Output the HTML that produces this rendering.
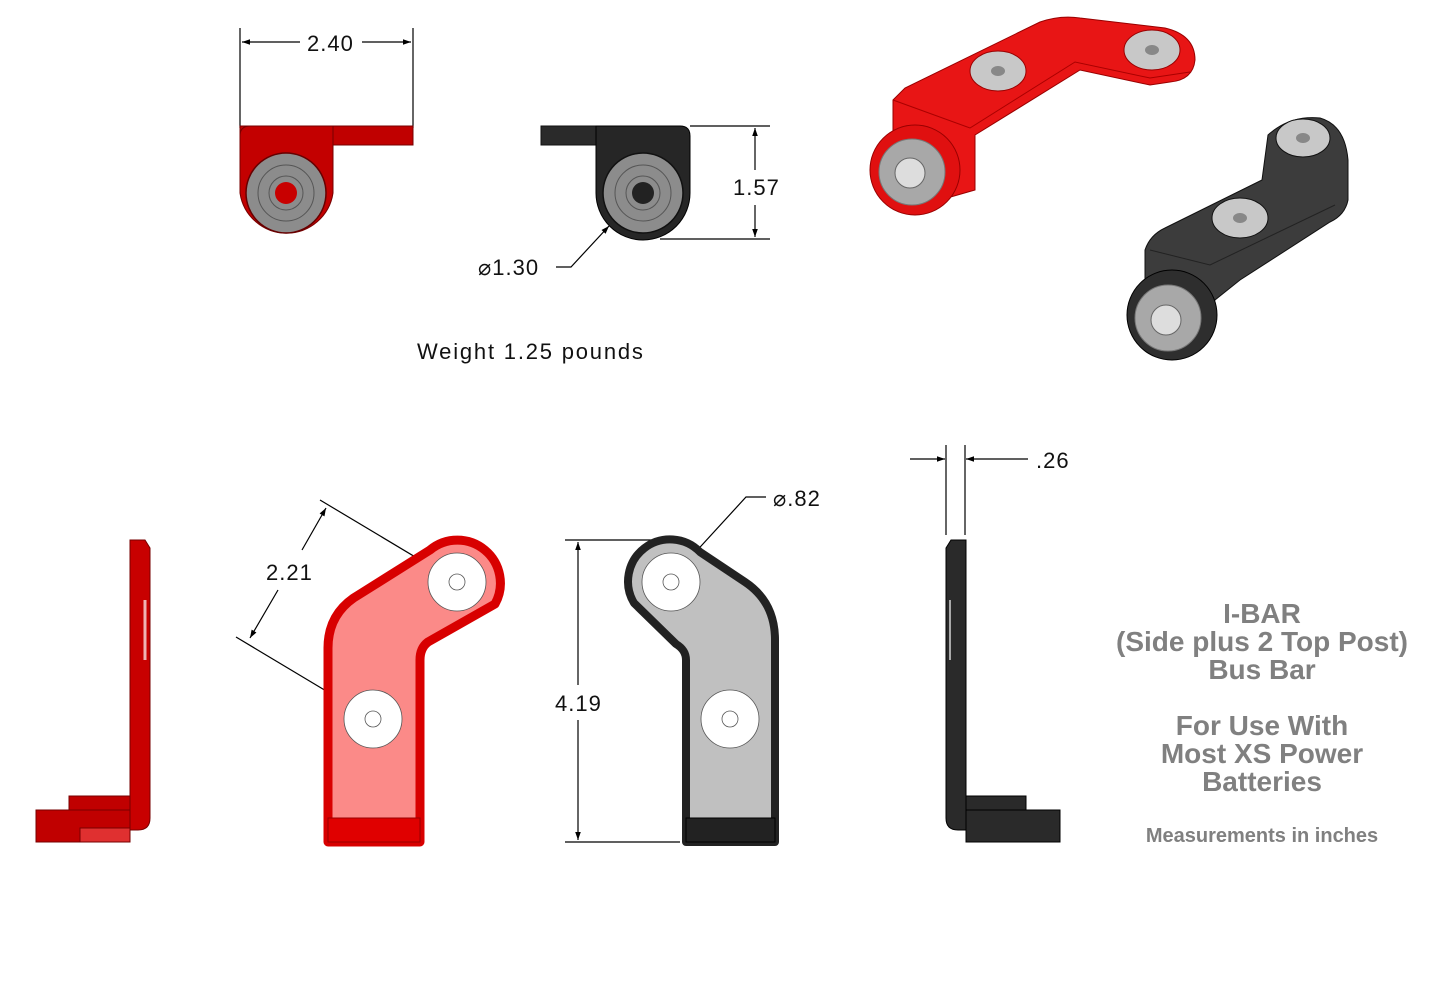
<!DOCTYPE html>
<html><head><meta charset="utf-8"><style>
html,body{margin:0;padding:0;background:#fff}
svg{display:block}
text{font-family:"Liberation Sans",sans-serif}
.d{font-size:22px;fill:#111;letter-spacing:1px}
.g{font-weight:bold;fill:#808080;text-anchor:middle}
</style></head><body>
<svg width="1440" height="997" viewBox="0 0 1440 997" xmlns="http://www.w3.org/2000/svg">
<defs>
<marker id="a" viewBox="0 0 10 10" refX="10" refY="5" markerWidth="12" markerHeight="8" orient="auto-start-reverse" markerUnits="userSpaceOnUse"><path d="M0,1.5 L10,5 L0,8.5 Z" fill="#000"/></marker>
</defs>
<rect width="1440" height="997" fill="#fff"/>
<g stroke="#000" stroke-width="1.2" fill="none">
<line x1="240" y1="28" x2="240" y2="128"/><line x1="413" y1="28" x2="413" y2="128"/>
<line x1="242" y1="42" x2="300" y2="42" marker-start="url(#a)"/><line x1="362" y1="42" x2="411" y2="42" marker-end="url(#a)"/>
<line x1="690" y1="126" x2="770" y2="126"/><line x1="660" y1="239" x2="770" y2="239"/>
<line x1="755" y1="128" x2="755" y2="170" marker-start="url(#a)"/><line x1="755" y1="205" x2="755" y2="237" marker-end="url(#a)"/>
<polyline points="556,267 571,267 609,226" marker-end="url(#a)"/>
<line x1="457" y1="582" x2="320" y2="500"/><line x1="373" y1="719" x2="236" y2="637"/>
<line x1="326" y1="508" x2="302" y2="550" marker-start="url(#a)"/><line x1="278" y1="590" x2="250" y2="638" marker-end="url(#a)"/>
<line x1="565" y1="540" x2="660" y2="540"/><line x1="565" y1="842" x2="680" y2="842"/>
<line x1="578" y1="542" x2="578" y2="685" marker-start="url(#a)"/><line x1="578" y1="720" x2="578" y2="840" marker-end="url(#a)"/>
<polyline points="766,497 746,497 691,557" marker-end="url(#a)"/>
<line x1="946" y1="445" x2="946" y2="535"/><line x1="965" y1="445" x2="965" y2="535"/>
<line x1="910" y1="459" x2="945" y2="459" marker-end="url(#a)"/><line x1="1028" y1="459" x2="966" y2="459" marker-end="url(#a)"/>
</g>
<text class="d" x="307" y="51">2.40</text>
<text class="d" x="733" y="195">1.57</text>
<text class="d" x="478" y="275">⌀1.30</text>
<text class="d" x="417" y="359" style="letter-spacing:1.8px">Weight 1.25 pounds</text>
<text class="d" x="266" y="580">2.21</text>
<text class="d" x="555" y="711">4.19</text>
<text class="d" x="773" y="506">⌀.82</text>
<text class="d" x="1036" y="468">.26</text>

<rect x="240" y="126" width="173" height="19" fill="#c00000" stroke="#700" stroke-width="1"/>
<path d="M240,136 Q240,126 250,126 L333,126 L333,193 A47,47 0 0 1 240,193 Z" fill="#c30000" stroke="#700"/>
<circle cx="286" cy="193" r="40" fill="#8c8c8c" stroke="#600" stroke-width="1.5"/>
<circle cx="286" cy="193" r="28" fill="none" stroke="#555"/>
<circle cx="286" cy="193" r="17" fill="none" stroke="#555"/>
<circle cx="286" cy="193" r="11" fill="#c80000"/>
<rect x="541" y="126" width="60" height="19" fill="#2a2a2a" stroke="#111"/>
<path d="M596,126 L680,126 Q690,126 690,136 L690,193 A47,47 0 0 1 596,193 Z" fill="#262626" stroke="#000"/>
<circle cx="643" cy="193" r="40" fill="#8c8c8c" stroke="#111" stroke-width="1.5"/>
<circle cx="643" cy="193" r="28" fill="none" stroke="#555"/>
<circle cx="643" cy="193" r="17" fill="none" stroke="#555"/>
<circle cx="643" cy="193" r="11" fill="#222"/>

<path d="M893,100 L905,88 L1040,22 Q1060,15 1080,18 L1165,28 Q1195,35 1195,60 Q1193,80 1170,82 L1150,85 L1080,70 L975,135 L975,190 L940,200 L893,150 Z" fill="#e81515" stroke="#900" stroke-width="1"/>
<path d="M893,100 L970,128 L1075,62 L1150,78 L1190,72" fill="none" stroke="#a00" stroke-width="1"/>
<circle cx="915" cy="170" r="45" fill="#e01010" stroke="#900"/>
<circle cx="912" cy="172" r="33" fill="#a8a8a8" stroke="#777"/>
<circle cx="910" cy="173" r="15" fill="#ddd" stroke="#666"/>
<ellipse cx="998" cy="71" rx="28" ry="20" fill="#c8c8c8" stroke="#900"/>
<ellipse cx="998" cy="71" rx="7" ry="5" fill="#888"/>
<ellipse cx="1152" cy="50" rx="28" ry="20" fill="#c8c8c8" stroke="#900"/>
<ellipse cx="1152" cy="50" rx="7" ry="5" fill="#888"/>
<path d="M1268,135 Q1290,115 1320,118 Q1345,125 1348,160 L1348,200 Q1345,215 1330,222 L1240,280 L1215,300 L1200,330 L1165,335 L1145,300 L1145,250 Q1150,235 1165,228 L1262,180 Z" fill="#3c3c3c" stroke="#111"/>
<path d="M1150,250 L1210,265 L1335,205" fill="none" stroke="#222"/>
<circle cx="1172" cy="315" r="45" fill="#2e2e2e" stroke="#000"/>
<circle cx="1168" cy="318" r="33" fill="#a8a8a8" stroke="#777"/>
<circle cx="1166" cy="320" r="15" fill="#ddd" stroke="#666"/>
<ellipse cx="1303" cy="138" rx="27" ry="19" fill="#c8c8c8" stroke="#111"/>
<ellipse cx="1303" cy="138" rx="7" ry="5" fill="#888"/>
<ellipse cx="1240" cy="218" rx="28" ry="20" fill="#c8c8c8" stroke="#111"/>
<ellipse cx="1240" cy="218" rx="7" ry="5" fill="#888"/>

<path d="M130,540 L145,540 L150,548 L150,818 Q150,830 138,830 L130,830 Z" fill="#c80000" stroke="#700"/>
<rect x="69" y="796" width="61" height="14" fill="#c00000" stroke="#700"/>
<rect x="36" y="810" width="94" height="32" fill="#c00000" stroke="#700"/>
<rect x="80" y="828" width="50" height="14" fill="#e03030" stroke="#700"/>
<line x1="145" y1="600" x2="145" y2="660" stroke="#fff" stroke-width="3" opacity=".7"/>
<path d="M328,842 L328,648 Q328,612 360,594 L430,550 A43,43 0 0 1 495,604 L428,642 Q420,648 420,660 L420,842 Z" fill="#fb8a88" stroke="#d80000" stroke-width="9" stroke-linejoin="round"/>
<rect x="328" y="818" width="92" height="24" fill="#e00000" stroke="#900"/>
<circle cx="457" cy="582" r="29" fill="#fff" stroke="#555" stroke-width=".8"/>
<circle cx="457" cy="582" r="8" fill="#fff" stroke="#555" stroke-width=".8"/>
<circle cx="373" cy="719" r="29" fill="#fff" stroke="#555" stroke-width=".8"/>
<circle cx="373" cy="719" r="8" fill="#fff" stroke="#555" stroke-width=".8"/>
<path d="M686,842 L686,660 Q686,650 676,644 L634,603 A42,42 0 0 1 700,552 L745,582 Q775,602 775,640 L775,842 Z" fill="#c0c0c0" stroke="#222" stroke-width="8" stroke-linejoin="round"/>
<rect x="686" y="818" width="89" height="24" fill="#222" stroke="#000"/>
<circle cx="671" cy="582" r="29" fill="#fff" stroke="#555" stroke-width=".8"/>
<circle cx="671" cy="582" r="8" fill="#fff" stroke="#555" stroke-width=".8"/>
<circle cx="730" cy="719" r="29" fill="#fff" stroke="#555" stroke-width=".8"/>
<circle cx="730" cy="719" r="8" fill="#fff" stroke="#555" stroke-width=".8"/>
<path d="M966,540 L951,540 L946,548 L946,818 Q946,830 958,830 L966,830 Z" fill="#2a2a2a" stroke="#000"/>
<rect x="966" y="796" width="60" height="14" fill="#2a2a2a" stroke="#000"/>
<rect x="966" y="810" width="94" height="32" fill="#2a2a2a" stroke="#000"/>
<line x1="950" y1="600" x2="950" y2="660" stroke="#fff" stroke-width="2" opacity=".6"/>

<g font-size="28">
<text class="g" x="1262" y="623">I-BAR</text>
<text class="g" x="1262" y="651">(Side plus 2 Top Post)</text>
<text class="g" x="1262" y="679">Bus Bar</text>
<text class="g" x="1262" y="735">For Use With</text>
<text class="g" x="1262" y="763">Most XS Power</text>
<text class="g" x="1262" y="791">Batteries</text>
</g>
<text class="g" x="1262" y="842" font-size="20">Measurements in inches</text>
</svg>
</body></html>
